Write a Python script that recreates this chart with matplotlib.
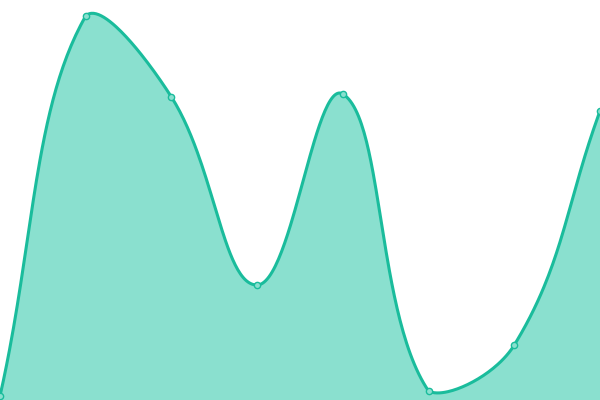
import numpy as np
import matplotlib
matplotlib.use("Agg")
import matplotlib.pyplot as plt

# values (pixels above the bottom edge)
x_idx = [0, 1, 2, 3, 4, 5, 6, 7]
values = [4, 384, 303, 115, 306, 9, 55, 289]

line_color = "#1abc9c"
fill_color = "#8ae0cf"

W, H = 600.0, 400.0
TENSION = 0.4


def spline_path(xs, ys, n=60):
    # distance weighted bezier through the points, worked out in pixels
    px = np.array(xs, dtype=float) * W / (len(xs) - 1)
    py = np.array(ys, dtype=float)
    pts = np.column_stack([px, py])
    m = len(pts)
    prev_cp, next_cp = [], []
    for i in range(m):
        p0 = pts[i - 1] if i > 0 else pts[i]
        p1 = pts[i]
        p2 = pts[i + 1] if i < m - 1 else pts[i]
        d01 = np.hypot(*(p1 - p0))
        d12 = np.hypot(*(p2 - p1))
        tot = d01 + d12
        s01 = d01 / tot if tot else 0
        s12 = d12 / tot if tot else 0
        a = p1 - TENSION * s01 * (p2 - p0)
        b = p1 + TENSION * s12 * (p2 - p0)
        a = np.clip(a, [0, 0], [W, H])
        b = np.clip(b, [0, 0], [W, H])
        prev_cp.append(a)
        next_cp.append(b)
    out = []
    t = np.linspace(0, 1, n)[:, None]
    for i in range(m - 1):
        p1, c1, c2, p2 = pts[i], next_cp[i], prev_cp[i + 1], pts[i + 1]
        seg = ((1 - t) ** 3) * p1 + 3 * ((1 - t) ** 2) * t * c1 \
            + 3 * (1 - t) * t ** 2 * c2 + t ** 3 * p2
        out.append(seg)
    out = np.vstack(out)
    return out[:, 0] * (len(xs) - 1) / W, out[:, 1]


sx, sy = spline_path(x_idx, values)

fig = plt.figure(figsize=(6, 4), dpi=100)
ax = fig.add_axes([0, 0, 1, 1])
ax.fill_between(sx, sy, 0, color=fill_color, lw=0)
ax.plot(sx, sy, color=line_color, lw=2.2, solid_capstyle="round")
ax.plot(x_idx, values, "o", ms=4.5, mfc=fill_color, mec=line_color, mew=1.0)
ax.set_xlim(0, 7)
ax.set_ylim(0, 400)
ax.axis("off")
fig.savefig("out.png", dpi=100)
